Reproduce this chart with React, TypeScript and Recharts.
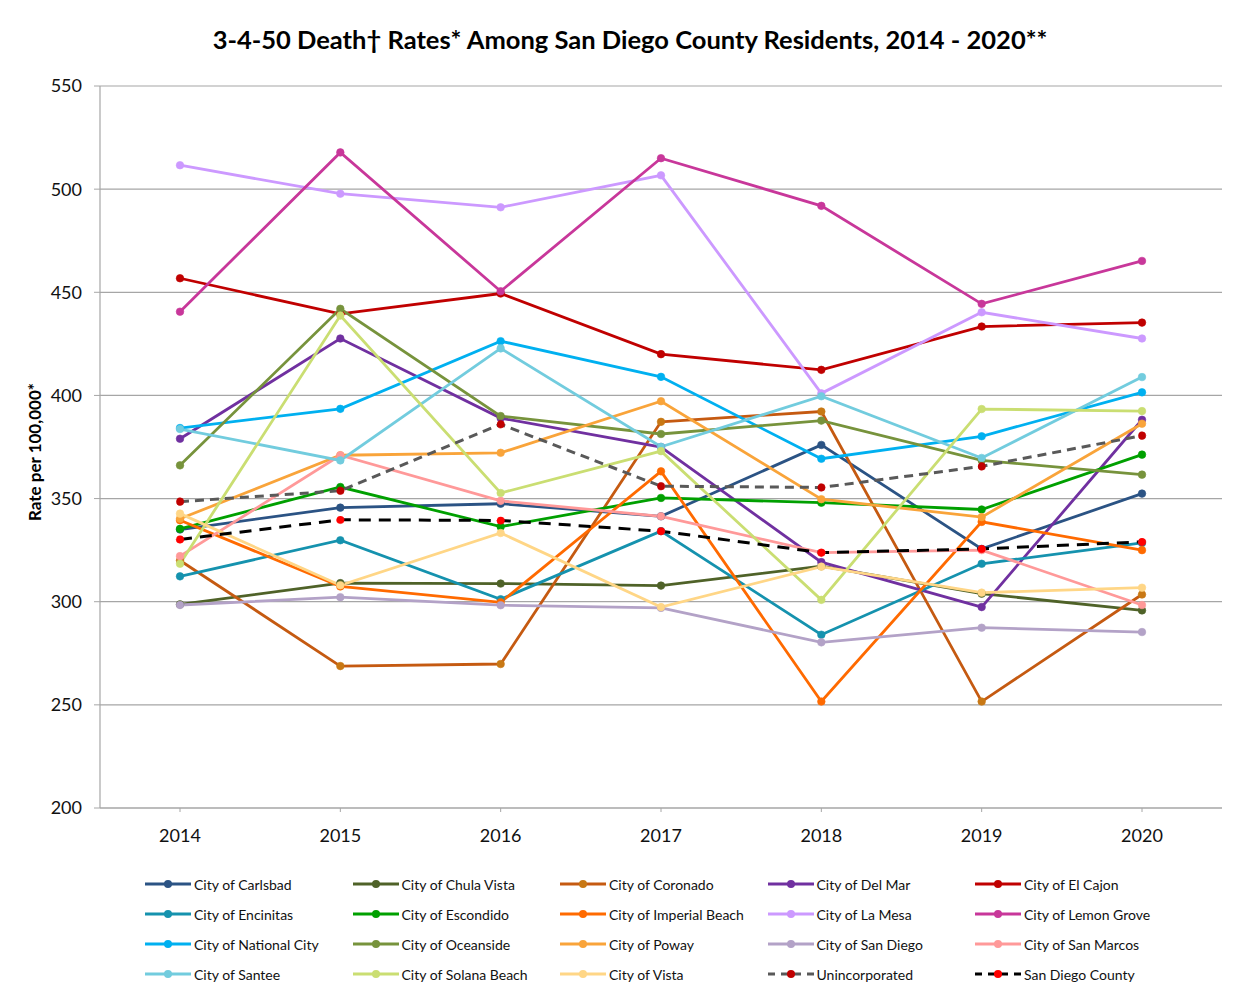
import React from 'react';
import { LineChart, Line, XAxis, YAxis, CartesianGrid } from 'recharts';

const years = ['2014', '2015', '2016', '2017', '2018', '2019', '2020'];
const yTicks = [200, 250, 300, 350, 400, 450, 500, 550];

const carlsbad = [335, 345.6, 347.5, 341.4, 376, 325.6, 352.4];
const chulaVista = [298.7, 309, 308.8, 307.8, 317.2, 303.9, 295.8];
const coronado = [320, 268.8, 269.8, 387.2, 392.2, 251.6, 303.5];
const delMar = [379, 427.6, 389, 375, 319.2, 297.4, 388.2];
const elCajon = [456.8, 439.5, 449.4, 420, 412.4, 433.4, 435.3];
const encinitas = [312.3, 329.8, 301.2, 334.2, 284, 318.4, 328.5];
const escondido = [335.3, 355.6, 336.4, 350.3, 348, 344.7, 371.3];
const imperialBeach = [339.5, 307.4, 299.7, 363.2, 251.6, 338.7, 325];
const laMesa = [511.6, 497.8, 491.2, 506.7, 401, 440.3, 427.6];
const lemonGrove = [440.6, 517.8, 450.5, 515, 491.9, 444.4, 465.2];
const nationalCity = [384.2, 393.5, 426.3, 409, 369.3, 380.2, 401.5];
const oceanside = [366.1, 442, 390, 381.3, 387.8, 368.5, 361.6];
const poway = [340.2, 371, 372.2, 397.2, 349.7, 341, 386.3];
const sanDiego = [298.4, 302.2, 298.3, 297, 280.3, 287.4, 285.3];
const sanMarcos = [322.1, 371, 348.9, 341.4, 323.8, 325, 298.4];
const santee = [383.7, 368.5, 422.8, 375.1, 399.6, 369.7, 408.9];
const solanaBeach = [318.4, 438.7, 352.7, 373, 300.9, 393.4, 392.4];
const vista = [342.7, 308, 333.3, 297.4, 317, 304.4, 306.8];
const unincorporated = [348.5, 353.8, 386, 356, 355.4, 365.6, 380.5];
const sdCounty = [330.2, 339.7, 339.4, 334.2, 323.8, 325.6, 329];

type S = { key: string; name: string; values: number[]; color: string; marker: string; dash?: string };

const series: S[] = [
  { key: 'carlsbad', name: 'City of Carlsbad', values: carlsbad, color: '#2B5384', marker: '#2B5384' },
  { key: 'chulaVista', name: 'City of Chula Vista', values: chulaVista, color: '#4F6228', marker: '#4F6228' },
  { key: 'coronado', name: 'City of Coronado', values: coronado, color: '#C55A11', marker: '#C87814' },
  { key: 'delMar', name: 'City of Del Mar', values: delMar, color: '#7030A0', marker: '#7030A0' },
  { key: 'elCajon', name: 'City of El Cajon', values: elCajon, color: '#C00000', marker: '#C00000' },
  { key: 'encinitas', name: 'City of Encinitas', values: encinitas, color: '#1592AE', marker: '#1592AE' },
  { key: 'escondido', name: 'City of Escondido', values: escondido, color: '#00A000', marker: '#00A000' },
  { key: 'imperialBeach', name: 'City of Imperial Beach', values: imperialBeach, color: '#FF6A00', marker: '#FF6A00' },
  { key: 'laMesa', name: 'City of La Mesa', values: laMesa, color: '#CC99FF', marker: '#CC99FF' },
  { key: 'lemonGrove', name: 'City of Lemon Grove', values: lemonGrove, color: '#C8379A', marker: '#C8379A' },
  { key: 'nationalCity', name: 'City of National City', values: nationalCity, color: '#00B0F0', marker: '#00B0F0' },
  { key: 'oceanside', name: 'City of Oceanside', values: oceanside, color: '#77933C', marker: '#77933C' },
  { key: 'poway', name: 'City of Poway', values: poway, color: '#F9A43A', marker: '#F9A43A' },
  { key: 'sanDiego', name: 'City of San Diego', values: sanDiego, color: '#B3A2C7', marker: '#B3A2C7' },
  { key: 'sanMarcos', name: 'City of San Marcos', values: sanMarcos, color: '#FF9999', marker: '#FF9999' },
  { key: 'santee', name: 'City of Santee', values: santee, color: '#72CCDE', marker: '#72CCDE' },
  { key: 'solanaBeach', name: 'City of Solana Beach', values: solanaBeach, color: '#CADE72', marker: '#CADE72' },
  { key: 'vista', name: 'City of Vista', values: vista, color: '#FFD686', marker: '#FFD686' },
  { key: 'unincorporated', name: 'Unincorporated', values: unincorporated, color: '#595959', marker: '#C00000', dash: '9 6' },
  { key: 'sdCounty', name: 'San Diego County', values: sdCounty, color: '#000000', marker: '#FF0000', dash: '12 8' },
];

const data = years.map((y, i) => {
  const row: Record<string, number | string> = { year: y };
  series.forEach((s) => {
    row[s.key] = s.values[i];
  });
  return row;
});

const FONT = 'Lato, "Open Sans", sans-serif';

export default function App() {
  return (
    <div style={{ position: 'relative', width: 1236, height: 987, fontFamily: FONT, background: '#fff' }}>
      <div style={{ position: 'absolute', left: -1, top: 0, width: 0, height: 987, borderLeft: '1px solid #A6A6A6' }} />
      <div
        style={{
          position: 'absolute',
          left: 0,
          width: 1244,
          top: 16,
          textAlign: 'center',
          fontSize: 25.5,
          fontWeight: 700,
          color: '#000',
        }}
      >
        3-4-50 Death† Rates* Among San Diego County Residents, 2014 - 2020**
      </div>
      <div
        style={{
          position: 'absolute',
          left: 26,
          top: 444,
          transform: 'translate(-50%, -50%) rotate(-90deg)',
          fontSize: 17,
          fontWeight: 700,
          whiteSpace: 'nowrap',
          color: '#000',
        }}
      >
        Rate per 100,000*
      </div>
      <LineChart
        width={1236}
        height={987}
        data={data}
        margin={{ top: 78, right: 22, left: 0, bottom: 157 }}
        style={{ position: 'absolute', left: 0, top: 0 }}
      >
        <CartesianGrid vertical={false} stroke="#A6A6A6" strokeWidth={1.2} />
        <XAxis
          dataKey="year"
          padding={{ left: 80, right: 80 }}
          axisLine={{ stroke: '#A6A6A6', strokeWidth: 1.2 }}
          tickLine={{ stroke: '#A6A6A6' }}
          tickSize={4}
          tickMargin={17}
          height={30}
          tick={{ fill: '#111', fontSize: 18, fontFamily: FONT }}
          interval={0}
        />
        <YAxis
          domain={[200, 550]}
          ticks={yTicks}
          width={92}
          axisLine={{ stroke: '#A6A6A6', strokeWidth: 1.2 }}
          tickLine={{ stroke: '#A6A6A6' }}
          tickSize={6}
          tickMargin={12}
          tick={{ fill: '#111', fontSize: 18, fontFamily: FONT }}
          allowDataOverflow
        />
        {series.map((s) => (
          <Line
            key={s.key}
            dataKey={s.key}
            name={s.name}
            stroke={s.color}
            strokeWidth={s.dash ? 3 : 2.8}
            strokeDasharray={s.dash}
            dot={{ r: 3.8, fill: s.marker, stroke: s.marker, strokeWidth: 1, strokeOpacity: 0.6 }}
            activeDot={false}
            isAnimationActive={false}
            type="linear"
          />
        ))}
      </LineChart>
      <div style={{ position: 'absolute', left: 0, top: 866, width: 1236 }}>
        {series.map((s, i) => {
          const col = i % 5;
          const row = Math.floor(i / 5);
          return (
            <div
              key={s.key}
              style={{
                position: 'absolute',
                left: 136 + col * 207.5,
                top: row * 30,
                height: 20,
                display: 'flex',
                alignItems: 'center',
                whiteSpace: 'nowrap',
                fontSize: 14,
                color: '#111',
              }}
            >
              <svg width={50} height={12} style={{ display: 'block' }}>
                <line x1={1} x2={47} y1={6} y2={6} stroke={s.color} strokeWidth={3} strokeDasharray={s.dash ? '7 6' : undefined} />
                <circle cx={24} cy={6} r={4} fill={s.marker} />
              </svg>
              <span>{s.name}</span>
            </div>
          );
        })}
      </div>
    </div>
  );
}
